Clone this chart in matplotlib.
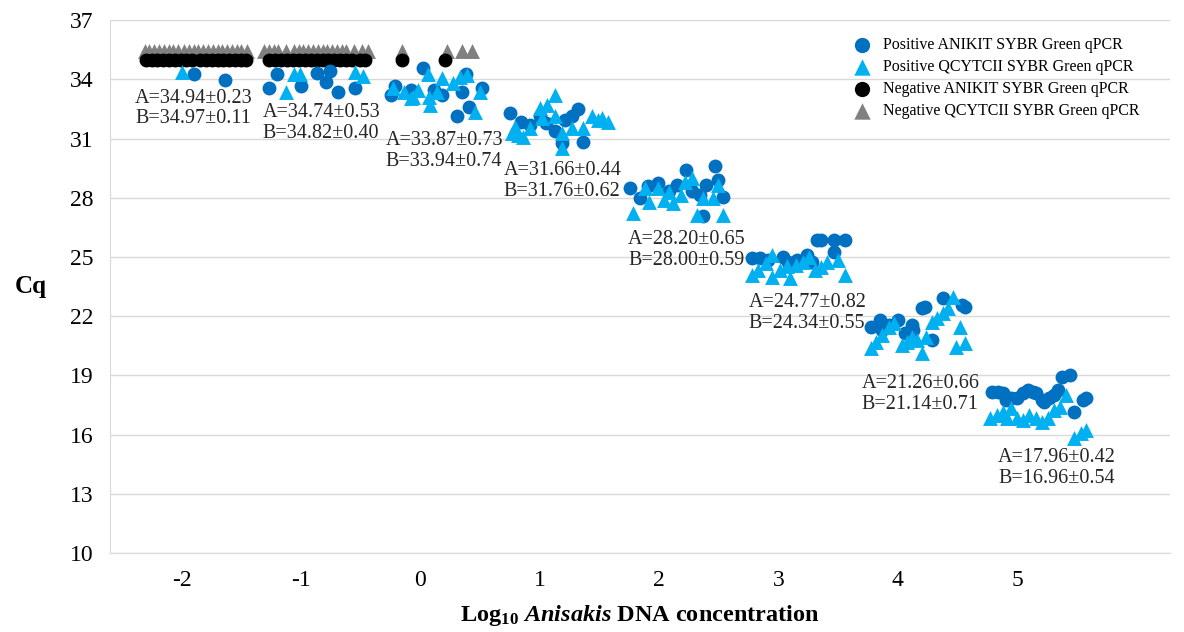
import numpy as np
import matplotlib
matplotlib.use("Agg")
import matplotlib.pyplot as plt

plt.rcParams["font.family"] = ["Liberation Serif", "DejaVu Serif"]
plt.rcParams["axes.unicode_minus"] = False
plt.rcParams["mathtext.fontset"] = "custom"
plt.rcParams["mathtext.rm"] = "Liberation Serif:bold"
plt.rcParams["mathtext.bf"] = "Liberation Serif:bold"
plt.rcParams["mathtext.it"] = "Liberation Serif:italic:bold"

# positive ANIKIT (circles)
anikit_pos_x = [-1.90, -1.64,
                -1.27, -1.20, -1.00, -0.87, -0.76, -0.79, -0.69, -0.55,
                -0.25, 0.02, 0.18, 0.35, 0.31, 0.41, 0.52, 0.38, 0.11, -0.08, -0.21,
                0.75, 0.84, 0.92, 1.05, 1.13, 1.19, 1.21, 1.27, 1.32, 1.36, 1.00,
                1.76, 1.84, 1.91, 1.99, 2.08, 2.15, 2.23, 2.28, 2.34, 2.37, 2.39, 2.47, 2.49, 2.54,
                2.78, 2.85, 2.91, 3.04, 3.08, 3.16, 3.24, 3.32, 3.36, 3.47, 3.56, 3.47, 3.28,
                3.78, 3.85, 3.87, 3.93, 4.00, 4.06, 4.12, 4.13, 4.20, 4.23, 4.29, 4.38, 4.54, 4.56,
                4.79, 4.84, 4.88, 4.91, 4.95, 5.00, 5.05, 5.09, 5.13, 5.16, 5.21, 5.23, 5.27, 5.31,
                5.34, 5.38, 5.44, 5.48, 5.55, 5.58]
anikit_pos_y = [34.30, 33.95,
                33.59, 34.25, 33.69, 34.35, 34.45, 33.85, 33.34, 33.59,
                33.19, 34.56, 33.19, 33.34, 32.17, 32.58, 33.59, 34.30, 33.44, 33.44, 33.69,
                32.28, 31.82, 31.67, 31.77, 31.41, 30.76, 31.92, 32.17, 32.48, 30.81, 32.17,
                28.48, 27.97, 28.58, 28.73, 28.37, 28.63, 29.39, 28.37, 28.12, 27.06, 28.63, 29.59, 28.88, 28.02,
                24.94, 24.94, 24.84, 24.99, 24.73, 24.84, 25.09, 25.85, 25.85, 25.85, 25.85, 25.24, 24.73,
                21.45, 21.81, 21.30, 21.55, 21.81, 21.14, 21.55, 21.30, 22.41, 22.46, 20.78, 22.92, 22.56, 22.46,
                18.14, 18.14, 18.09, 17.74, 17.84, 17.84, 18.09, 18.24, 18.14, 18.09, 17.74, 17.63, 17.84, 17.99,
                18.24, 18.91, 19.01, 17.13, 17.74, 17.84]

# positive QCYTCII (triangles)
qcyt_pos_x = [-2.00,
              -1.13, -1.06, -1.01, -0.55, -0.48,
              -0.23, -0.14, -0.06, -0.02, 0.06, 0.08, 0.14, 0.18, 0.27, 0.33, 0.39, 0.46, 0.50, 0.07, -0.08,
              0.77, 0.79, 0.82, 0.86, 0.92, 1.00, 1.02, 1.06, 1.13, 1.13, 1.19, 1.19, 1.27, 1.36, 1.44,
              1.52, 1.57, 1.49,
              1.78, 1.88, 1.92, 1.99, 2.04, 2.08, 2.12, 2.18, 2.22, 2.28, 2.32, 2.37, 2.45, 2.49, 2.54,
              2.78, 2.83, 2.90, 2.95, 2.95, 3.01, 3.07, 3.10, 3.15, 3.21, 3.26, 3.31, 3.36, 3.41, 3.50, 3.56,
              3.78, 3.82, 3.87, 3.93, 3.97, 4.04, 4.08, 4.12, 4.16, 4.20, 4.24, 4.29, 4.33, 4.38, 4.42,
              4.46, 4.52, 4.49, 4.56,
              4.77, 4.83, 4.88, 4.92, 4.95, 5.00, 5.05, 5.10, 5.16, 5.21, 5.26, 5.31, 5.36, 5.41, 5.48,
              5.54, 5.58]
qcyt_pos_y = [34.40,
              33.34, 34.30, 34.25, 34.40, 34.15,
              33.59, 33.34, 33.09, 33.44, 34.30, 32.68, 33.34, 34.05, 33.80, 34.10, 34.20, 32.33, 33.34, 33.09, 33.04,
              31.31, 31.57, 31.16, 31.06, 31.52, 32.53, 32.07, 32.68, 33.19, 32.17, 31.31, 30.50, 31.52, 31.52, 32.17,
              32.02, 31.82, 31.92,
              27.21, 28.48, 27.77, 28.48, 27.87, 28.27, 27.72, 28.12, 28.78, 28.98, 27.11, 27.97, 27.97, 28.63, 27.11,
              24.07, 24.33, 24.68, 25.09, 23.97, 24.33, 24.53, 23.92, 24.58, 24.73, 24.99, 24.33, 24.48, 24.73, 24.84, 24.07,
              20.37, 20.67, 21.04, 21.45, 21.65, 20.52, 20.67, 20.93, 20.78, 20.12, 20.93, 21.70, 21.91, 22.16, 22.41,
              22.97, 21.45, 20.42, 20.62,
              16.82, 16.98, 17.13, 16.82, 17.33, 16.82, 16.72, 16.98, 16.82, 16.62, 16.82, 17.23, 17.38, 17.99, 15.81,
              16.06, 16.22]

# negative ANIKIT (black circles)
anikit_neg_x = [-2.30, -2.25, -2.21, -2.16, -2.11, -2.06, -2.01, -1.96, -1.91, -1.85, -1.80, -1.75,
                -1.70, -1.65, -1.60, -1.55, -1.50, -1.46,
                -1.27, -1.22, -1.17, -1.12, -1.07, -1.02, -0.97, -0.92, -0.87, -0.82, -0.77, -0.72,
                -0.67, -0.62, -0.57, -0.51, -0.46,
                -0.15, 0.21]
anikit_neg_y = [35.0] * 18 + [35.0] * 17 + [35.0, 35.0]

# negative QCYTCII (gray triangles)
qcyt_neg_x = [-2.31, -2.27, -2.23, -2.19, -2.15, -2.11, -2.07, -2.03, -1.98, -1.94, -1.90, -1.86,
              -1.82, -1.78, -1.74, -1.70, -1.66, -1.62, -1.58, -1.54, -1.50, -1.45,
              -1.31, -1.27, -1.23, -1.19, -1.13, -1.06, -1.02, -0.98, -0.94, -0.90, -0.86, -0.82,
              -0.78, -0.74, -0.70, -0.66, -0.62, -0.56, -0.49, -0.44,
              -0.15, 0.22, 0.35, 0.43]
qcyt_neg_y = [35.45] * 22 + [35.45] * 20 + [35.45] * 4

# mean +/- SD labels per concentration
label_x = [-2.39, -1.32, -0.29, 0.70, 1.74, 2.75, 3.70, 4.84]
label_ya = [33.05, 32.33, 30.91, 29.39, 25.89, 22.70, 18.60, 14.85]
label_yb = [32.00, 31.28, 29.86, 28.34, 24.84, 21.65, 17.55, 13.80]
text_a = ["34.94±0.23", "34.74±0.53", "33.87±0.73", "31.66±0.44",
          "28.20±0.65", "24.77±0.82", "21.26±0.66", "17.96±0.42"]
text_b = ["34.97±0.11", "34.82±0.40", "33.94±0.74", "31.76±0.62",
          "28.00±0.59", "24.34±0.55", "21.14±0.71", "16.96±0.54"]

xticks = [-2, -1, 0, 1, 2, 3, 4, 5]
yticks = [10, 13, 16, 19, 22, 25, 28, 31, 34, 37]

fig = plt.figure(figsize=(11.84, 6.32), dpi=100)
ax = fig.add_axes([0.093, 0.125, 0.895, 0.843])

s_c, s_t = 100, 115
ax.scatter(qcyt_neg_x, qcyt_neg_y, s=s_t, marker="^", color="#808080", linewidths=0,
           label="Negative QCYTCII SYBR Green qPCR", zorder=3)
ax.scatter(anikit_neg_x, anikit_neg_y, s=s_c, marker="o", color="black", linewidths=0,
           label="Negative ANIKIT SYBR Green qPCR", zorder=3)
ax.scatter(anikit_pos_x, anikit_pos_y, s=s_c, marker="o", color="#0070C0", linewidths=0,
           label="Positive ANIKIT SYBR Green qPCR", zorder=3)
ax.scatter(qcyt_pos_x, qcyt_pos_y, s=s_t, marker="^", color="#00B0F0", linewidths=0,
           label="Positive QCYTCII SYBR Green qPCR", zorder=4)

for x, ya, yb, ta, tb in zip(label_x, label_ya, label_yb, text_a, text_b):
    ax.text(x, ya, "A=" + ta, ha="left", va="center", fontsize=14.5, color="#262626")
    ax.text(x, yb, "B=" + tb, ha="left", va="center", fontsize=14.5, color="#262626")

ax.set_xlim(-2.6, 6.28)
ax.set_ylim(10, 37)
ax.set_xticks(xticks)
ax.set_yticks(yticks)
ax.tick_params(length=0, labelsize=17, pad=12)
ax.grid(axis="y", color="#D9D9D9", lw=1)
ax.set_axisbelow(True)
for s in ["top", "right"]:
    ax.spines[s].set_visible(False)
for s in ["left", "bottom"]:
    ax.spines[s].set_color("#D9D9D9")

ax.set_ylabel("Cq", fontsize=18, fontweight="bold", rotation=0, labelpad=28, va="center")
ax.set_xlabel(r"Log$_{\mathrm{10}}$ $\mathit{Anisakis}$ DNA concentration", fontsize=17.5,
              fontweight="bold", labelpad=9)

h, l = ax.get_legend_handles_labels()
order = [2, 3, 1, 0]
ax.legend([h[i] for i in order], [l[i] for i in order], loc="upper right",
          bbox_to_anchor=(0.985, 0.995), frameon=False, fontsize=11.5, handletextpad=0.3,
          labelspacing=0.38, markerscale=1.1)

fig.savefig("out.png", dpi=100)
